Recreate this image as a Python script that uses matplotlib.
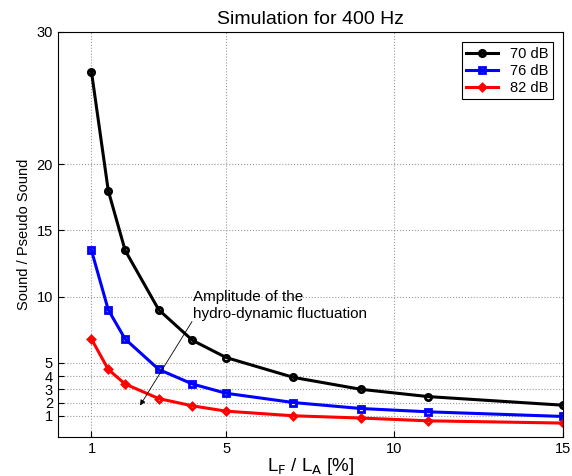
import matplotlib.pyplot as plt

plt.rcParams['font.family'] = ['Liberation Sans', 'DejaVu Sans']

x = [1, 1.5, 2, 3, 4, 5, 7, 9, 11, 15]
db70 = [27.0, 18.0, 13.5, 9.0, 6.7, 5.4, 3.9, 3.0, 2.45, 1.8]
db76 = [13.5, 9.0, 6.8, 4.5, 3.4, 2.7, 2.0, 1.55, 1.3, 0.95]
db82 = [6.8, 4.5, 3.4, 2.3, 1.75, 1.35, 1.0, 0.83, 0.62, 0.45]
labels = ['70 dB', '76 dB', '82 dB']
xticks = [1, 5, 10, 15]
yticks = [1, 2, 3, 4, 5, 10, 15, 20, 30]

fig = plt.figure(figsize=(5.72, 4.76), dpi=100)
ax = fig.add_axes([0.101, 0.082, 0.883, 0.851])

ax.plot(x, db70, color='k', marker='o', ms=4.5, mfc='none', mew=2, lw=2.2, label=labels[0])
ax.plot(x, db76, color='#0000ff', marker='s', ms=4, mfc='none', mew=2, lw=2.2, label=labels[1])
ax.plot(x, db82, color='#ff0000', marker='D', ms=3.5, mfc='none', mew=2, lw=2.2, label=labels[2])

ax.set_xlim(0, 15)
ax.set_ylim(-0.6, 30)
ax.set_xticks(xticks)
ax.set_yticks(yticks)
ax.tick_params(direction='in', labelsize=10.5, length=4)
ax.grid(True, linestyle=':', color='#999999', linewidth=0.8)

ax.set_title('Simulation for 400 Hz', fontsize=14, pad=6)
ax.set_ylabel('Sound / Pseudo Sound', fontsize=10.5)
ax.set_xlabel(r'L$_\mathrm{F}$ / L$_\mathrm{A}$ [%]', fontsize=13.5, labelpad=0)

ax.text(4.03, 10.5, 'Amplitude of the\nhydro-dynamic fluctuation', fontsize=11,
        va='top', ha='left', linespacing=1.25)
ax.annotate('', xy=(2.40, 1.6), xytext=(4.03, 8.3),
            arrowprops=dict(arrowstyle='-|>', color='k', lw=0.6, mutation_scale=8))

leg = ax.legend(loc='upper right', fontsize=10.5, fancybox=False, edgecolor='k',
                framealpha=1, handlelength=2.2, borderpad=0.3, labelspacing=0.2,
                bbox_to_anchor=(0.995, 0.992))
leg.get_frame().set_linewidth(0.8)

fig.savefig('out.png', dpi=100)
